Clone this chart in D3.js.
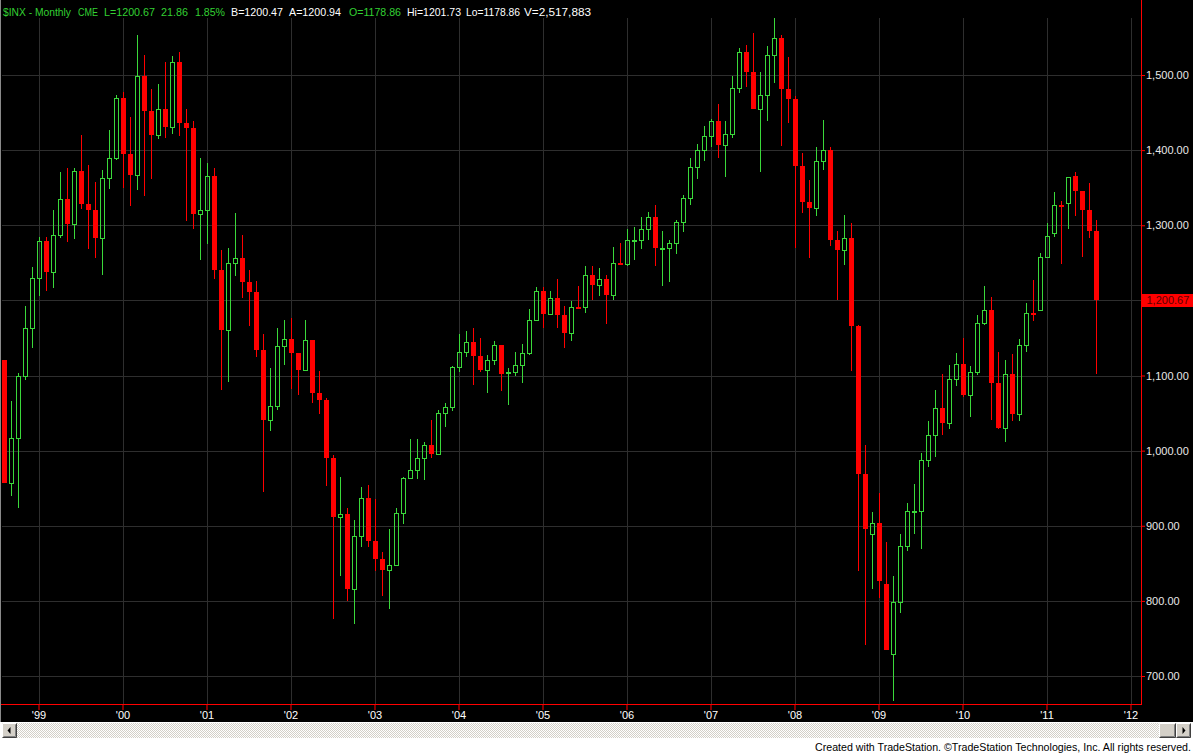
<!DOCTYPE html>
<html>
<head>
<meta charset="utf-8">
<script src="https://cdn.jsdelivr.net/npm/d3@7"></script>
<style>
html,body{margin:0;padding:0;background:#fff;overflow:hidden}
svg{display:block}
text{font-family:"Liberation Sans",Arial,Helvetica,sans-serif}
</style>
</head>
<body>
<svg id="chart" width="1193" height="753"></svg>
<script>
// ---------------- DATA ($INX monthly, Aug 1998 .. Aug 2011) ----------------
const firstMonth = [1998, 7];   // Aug 1998 (JS month index)
const opens = [1120.67,957.28,1017.01,1098.67,1163.63,1229.23,1279.64,1238.33,1286.37,1335.18,1301.84,1372.71,1328.72,1320.41,1282.71,1362.93,1388.91,1469.25,1394.46,1366.42,1498.58,1452.43,1420.60,1454.60,1430.83,1517.68,1436.51,1429.40,1314.95,1320.28,1366.01,1239.94,1160.33,1249.46,1255.82,1224.42,1211.23,1133.58,1040.94,1059.78,1139.45,1148.08,1130.20,1106.73,1147.39,1076.92,1067.14,989.82,911.62,916.07,815.28,885.76,936.31,879.82,855.70,841.15,848.18,916.92,963.59,974.50,990.31,1008.01,995.97,1050.71,1058.20,1111.92,1131.13,1144.94,1126.21,1107.30,1120.68,1140.84,1101.72,1104.24,1114.58,1130.20,1173.82,1211.92,1181.27,1203.60,1180.59,1156.85,1191.50,1191.33,1234.18,1220.33,1228.81,1207.01,1249.48,1248.29,1280.08,1280.66,1294.83,1310.61,1270.09,1270.20,1276.66,1303.82,1335.85,1377.94,1400.63,1418.30,1438.24,1406.82,1420.86,1482.37,1530.62,1503.35,1455.27,1473.99,1526.75,1549.38,1481.14,1468.36,1378.55,1330.63,1322.70,1385.59,1400.38,1280.00,1267.38,1282.83,1166.36,968.75,888.61,903.25,823.09,729.57,797.87,872.81,919.14,919.32,987.48,1020.62,1057.08,1036.19,1095.63,1115.10,1073.87,1104.49,1169.43,1186.69,1089.41,1030.71,1101.60,1049.33,1141.20,1183.26,1186.60,1257.64,1289.14,1327.22,1329.48,1365.21,1345.20,1320.64,1292.59];
const highs = [1121.00,1066.11,1103.78,1192.97,1244.93,1283.83,1284.75,1320.00,1371.00,1375.98,1376.00,1420.33,1380.00,1357.74,1373.17,1427.13,1473.10,1478.00,1444.55,1552.87,1527.19,1481.51,1488.00,1517.32,1525.21,1530.09,1454.82,1438.46,1389.06,1383.37,1376.38,1267.42,1269.30,1315.93,1286.62,1239.78,1226.27,1155.40,1110.61,1163.38,1173.62,1176.97,1130.20,1173.94,1147.84,1106.59,1070.00,994.46,965.00,924.02,907.44,951.57,954.28,935.05,864.64,895.90,924.24,965.38,1015.33,1015.41,1011.01,1040.29,1053.79,1063.65,1112.56,1155.38,1158.98,1163.23,1150.57,1127.74,1146.34,1140.84,1109.68,1131.54,1142.05,1188.46,1217.90,1217.80,1212.16,1229.11,1191.88,1199.56,1219.59,1245.15,1245.86,1243.13,1233.34,1270.64,1275.80,1294.90,1297.57,1310.88,1318.16,1326.70,1292.00,1280.42,1306.74,1340.28,1389.45,1407.89,1431.81,1441.61,1461.57,1438.89,1498.02,1535.56,1540.56,1555.90,1503.89,1538.74,1576.09,1552.76,1523.57,1471.77,1396.02,1359.68,1404.57,1440.24,1404.05,1292.17,1313.15,1303.04,1167.03,1007.51,918.85,943.85,877.86,832.98,888.70,930.17,956.23,996.68,1039.47,1080.15,1101.36,1113.69,1130.38,1150.45,1112.42,1180.16,1219.80,1205.13,1131.23,1120.95,1129.24,1148.90,1196.14,1227.08,1262.60,1302.67,1344.07,1332.28,1364.56,1370.58,1345.20,1356.48,1307.38];
const lows = [957.00,939.98,923.32,1094.48,1136.89,1205.46,1212.19,1217.00,1282.66,1277.17,1281.41,1322.00,1268.04,1256.00,1233.70,1348.00,1387.38,1350.14,1325.07,1346.62,1339.40,1361.09,1415.00,1416.54,1422.00,1419.44,1305.79,1294.90,1254.07,1274.62,1228.33,1081.19,1091.99,1232.00,1203.03,1165.54,1124.87,944.75,1026.76,1054.31,1114.53,1081.66,1074.36,1106.73,1063.46,1048.96,952.92,775.68,833.44,800.20,768.63,872.00,871.84,840.34,806.29,788.90,847.85,902.83,963.59,962.10,960.84,990.36,995.97,1031.20,1053.41,1105.08,1124.44,1087.16,1105.00,1076.32,1113.32,1078.78,1060.72,1099.18,1090.19,1127.60,1173.76,1163.75,1180.10,1163.69,1136.15,1146.18,1188.30,1183.55,1201.07,1205.35,1168.20,1201.07,1246.59,1245.74,1253.61,1268.42,1280.74,1245.34,1219.29,1224.54,1261.30,1290.93,1327.10,1360.98,1385.93,1403.97,1389.42,1363.98,1416.37,1476.70,1484.18,1454.25,1370.60,1439.29,1489.56,1406.10,1435.65,1270.05,1316.75,1256.98,1312.00,1373.07,1272.00,1200.44,1247.45,1106.42,839.80,741.02,815.69,804.30,734.52,666.79,783.32,866.10,888.86,869.32,978.51,991.97,1020.18,1029.38,1085.89,1071.59,1044.50,1101.00,1167.00,1040.78,1028.33,1010.91,1039.70,1039.70,1131.87,1173.00,1186.60,1257.62,1285.00,1249.05,1294.70,1311.80,1258.07,1282.86,1101.54];
const closes = [957.28,1017.01,1098.67,1163.63,1229.23,1279.64,1238.33,1286.37,1335.18,1301.84,1372.71,1328.72,1320.41,1282.71,1362.93,1388.91,1469.25,1394.46,1366.42,1498.58,1452.43,1420.60,1454.60,1430.83,1517.68,1436.51,1429.40,1314.95,1320.28,1366.01,1239.94,1160.33,1249.46,1255.82,1224.42,1211.23,1133.58,1040.94,1059.78,1139.45,1148.08,1130.20,1106.73,1147.39,1076.92,1067.14,989.82,911.62,916.07,815.28,885.76,936.31,879.82,855.70,841.15,848.18,916.92,963.59,974.50,990.31,1008.01,995.97,1050.71,1058.20,1111.92,1131.13,1144.94,1126.21,1107.30,1120.68,1140.84,1101.72,1104.24,1114.58,1130.20,1173.82,1211.92,1181.27,1203.60,1180.59,1156.85,1191.50,1191.33,1234.18,1220.33,1228.81,1207.01,1249.48,1248.29,1280.08,1280.66,1294.83,1310.61,1270.09,1270.20,1276.66,1303.82,1335.85,1377.94,1400.63,1418.30,1438.24,1406.82,1420.86,1482.37,1530.62,1503.35,1455.27,1473.99,1526.75,1549.38,1481.14,1468.36,1378.55,1330.63,1322.70,1385.59,1400.38,1280.00,1267.38,1282.83,1166.36,968.75,896.24,903.25,825.88,735.09,797.87,872.81,919.14,919.32,987.48,1020.62,1057.08,1036.19,1095.63,1115.10,1073.87,1104.49,1169.43,1186.69,1089.41,1030.71,1101.60,1049.33,1141.20,1183.26,1180.55,1257.64,1286.12,1327.22,1325.83,1363.61,1345.20,1320.64,1292.28,1200.67];

const yTicks = [700, 800, 900, 1000, 1100, 1200, 1300, 1400, 1500];
const xTickYears = [1999,2000,2001,2002,2003,2004,2005,2006,2007,2008,2009,2010,2011,2012];
const xTickLabels = ["'99","'00","'01","'02","'03","'04","'05","'06","'07","'08","'09","'10","'11","'12"];
const lastPrice = 1200.67;
const headerTexts = ["$INX - Monthly","CME","L=1200.67","21.86","1.85%","B=1200.47","A=1200.94","O=1178.86","Hi=1201.73","Lo=1178.86","V=2,517,883"];
const headerIsGreen = [true,true,true,true,true,false,false,true,false,false,false];
const footerText = "Created with TradeStation. \u00A9TradeStation Technologies, Inc. All rights reserved.";

// ---------------- LAYOUT / STYLE ----------------
const W = 1193, H = 753;
const plotLeft = 0.5, plotRight = 1141.5, plotTop = 18, axisY = 704, blackBottom = 722;
const headerX = [3,78,104,161,195,231,289,349,407,466,524];
const headerW = [68,20,51,27,30,52,52,52,54,54,67];
const GREEN = "#3ad83a", RED = "#ff0000", GRID = "#2e2e2e", TXTGREEN = "#33d033";

const svg = d3.select("#chart");
const defs = svg.append("defs");
const pat = defs.append("pattern").attr("id","chk").attr("width",2).attr("height",2).attr("patternUnits","userSpaceOnUse");
pat.append("rect").attr("width",2).attr("height",2).attr("fill","#ffffff");
pat.append("rect").attr("width",1).attr("height",1).attr("fill","#d4d0c8");
pat.append("rect").attr("x",1).attr("y",1).attr("width",1).attr("height",1).attr("fill","#d4d0c8");

svg.append("rect").attr("width",W).attr("height",H).attr("fill","#ffffff");
svg.append("rect").attr("width",W).attr("height",blackBottom).attr("fill","#000000");

// months (band domain extends to Feb 2012, the right edge)
const start = new Date(firstMonth[0], firstMonth[1], 1);
const allMonths = d3.timeMonth.range(start, new Date(2012, 2, 1));
const key = d => d3.timeFormat("%Y-%m")(d);
const x = d3.scaleBand().domain(allMonths.map(key)).range([plotLeft, plotRight]).padding(0);
const y = d3.scaleLinear().domain([700, 1500]).range([676, 75]);

const data = opens.map((o, i) => ({m: key(d3.timeMonth.offset(start, i)), o, h: highs[i], l: lows[i], c: closes[i]}));
const cx = d => Math.floor(x(d.m) + x.bandwidth() / 2) + 0.5;
const Y = v => Math.round(y(v));

// grid
const grid = svg.append("g");
grid.selectAll("line.h").data(yTicks).join("line")
  .attr("x1", 2).attr("x2", plotRight).attr("y1", d => Y(d) + 0.5).attr("y2", d => Y(d) + 0.5)
  .attr("stroke", GRID).attr("stroke-width", 1);
const janKeys = xTickYears.map(yr => key(new Date(yr, 0, 1)));
grid.selectAll("line.v").data(janKeys).join("line")
  .attr("x1", d => Math.floor(x(d) + x.bandwidth()/2) + 0.5).attr("x2", d => Math.floor(x(d) + x.bandwidth()/2) + 0.5)
  .attr("y1", plotTop).attr("y2", axisY)
  .attr("stroke", GRID).attr("stroke-width", 1);

// candles
const cg = svg.append("g");
const candles = cg.selectAll("g").data(data).join("g");
candles.each(function(d) {
  const g = d3.select(this);
  const up = d.c >= d.o;
  const col = up ? GREEN : RED;
  const yTop = Y(Math.max(d.o, d.c)), yBot = Y(Math.min(d.o, d.c));
  const hb = yBot - yTop;
  const X = cx(d);
  if (up && hb >= 3) {
    g.append("line").attr("x1", X).attr("x2", X).attr("y1", Y(d.h)).attr("y2", yTop).attr("stroke", col);
    g.append("line").attr("x1", X).attr("x2", X).attr("y1", yBot + 1).attr("y2", Y(d.l)).attr("stroke", col);
    g.append("rect").attr("x", X - 2).attr("y", yTop + 0.5).attr("width", 4).attr("height", hb)
      .attr("fill", "none").attr("stroke", col).attr("stroke-width", 1);
  } else {
    g.append("line").attr("x1", X).attr("x2", X).attr("y1", Y(d.h)).attr("y2", Y(d.l)).attr("stroke", col);
    g.append("rect").attr("x", X - 2.5).attr("y", yTop).attr("width", 5).attr("height", Math.max(hb, 2))
      .attr("fill", col);
  }
});

// header
svg.append("g").selectAll("text").data(headerTexts).join("text")
  .attr("x", (d, i) => headerX[i]).attr("y", 16)
  .attr("font-size", "11px")
  .attr("textLength", (d, i) => headerW[i]).attr("lengthAdjust", "spacingAndGlyphs")
  .attr("fill", (d, i) => headerIsGreen[i] ? TXTGREEN : "#ffffff")
  .text(d => d);

// x axis
const xAxis = d3.axisBottom(x).tickValues(janKeys)
  .tickFormat((d, i) => xTickLabels[i]).tickSizeInner(6).tickSizeOuter(0).tickPadding(1);
const xa = svg.append("g").attr("transform", `translate(0,${axisY})`).call(xAxis);
xa.select(".domain").remove();
xa.selectAll(".tick line").attr("stroke", RED);
xa.selectAll(".tick text").attr("fill", "#ffffff").attr("font-size", "11px").attr("font-family", '"Liberation Sans",Arial,sans-serif');
svg.append("line").attr("x1", 1).attr("x2", plotRight).attr("y1", axisY + 0.5).attr("y2", axisY + 0.5).attr("stroke", RED);

// y axis (right)
const yAxis = d3.axisRight(y).tickValues(yTicks).tickFormat(d3.format(",.2f")).tickSize(4).tickPadding(1);
const ya = svg.append("g").attr("transform", `translate(${plotRight - 0.5},0)`).call(yAxis);
ya.select(".domain").remove();
ya.selectAll(".tick line").attr("stroke", RED);
ya.selectAll(".tick text").attr("fill", "#e8e8e8").attr("font-size", "11px").attr("font-family", '"Liberation Sans",Arial,sans-serif');
svg.append("line").attr("x1", plotRight).attr("x2", plotRight).attr("y1", 0).attr("y2", axisY + 1).attr("stroke", RED);

// last price marker
const lp = svg.append("g");
lp.append("rect").attr("x", plotRight + 0.5).attr("y", Y(lastPrice) - 6).attr("width", W - plotRight).attr("height", 13).attr("fill", RED);
lp.append("text").attr("x", plotRight + 5).attr("y", Y(lastPrice) + 4).attr("font-size", "11px").attr("fill", "#5a0000").text(d3.format(",.2f")(lastPrice));

// left border
svg.append("line").attr("x1", 0.5).attr("x2", 0.5).attr("y1", 0).attr("y2", blackBottom).attr("stroke", "#8a8a8a");

// scrollbar
const sb = svg.append("g");
sb.append("rect").attr("x", 2).attr("y", 723).attr("width", 1189).attr("height", 15).attr("fill", "url(#chk)");
function button(x0, w, arrow) {
  const b = sb.append("g");
  b.append("rect").attr("x", x0).attr("y", 723).attr("width", w).attr("height", 15).attr("fill", "#d4d0c8");
  b.append("path").attr("d", `M${x0+0.5},${737.5}V${723.5}H${x0+w-0.5}`).attr("fill","none").attr("stroke","#ffffff");
  b.append("path").attr("d", `M${x0+0.5},${737.5}H${x0+w-0.5}V${723.5}`).attr("fill","none").attr("stroke","#404040");
  b.append("path").attr("d", `M${x0+1.5},${736.5}H${x0+w-1.5}V${724.5}`).attr("fill","none").attr("stroke","#808080");
  if (arrow === "left") {
    const cxA = x0 + w/2, cyA = 730.5;
    b.append("path").attr("d", `M${cxA-2},${cyA}L${cxA+1},${cyA-3.5}L${cxA+1},${cyA+3.5}Z`).attr("fill","#000");
  } else if (arrow === "right") {
    const cxA = x0 + w/2, cyA = 730.5;
    b.append("path").attr("d", `M${cxA+2},${cyA}L${cxA-1},${cyA-3.5}L${cxA-1},${cyA+3.5}Z`).attr("fill","#000");
  }
}
button(2, 15, "left");
button(1159, 17, null);
button(1176, 15, "right");

// footer
svg.append("text").attr("x", 815).attr("y", 751)
  .attr("font-size", "10.5px").attr("fill", "#000")
  .attr("textLength", 376).attr("lengthAdjust", "spacingAndGlyphs").text(footerText);
</script>
</body>
</html>
